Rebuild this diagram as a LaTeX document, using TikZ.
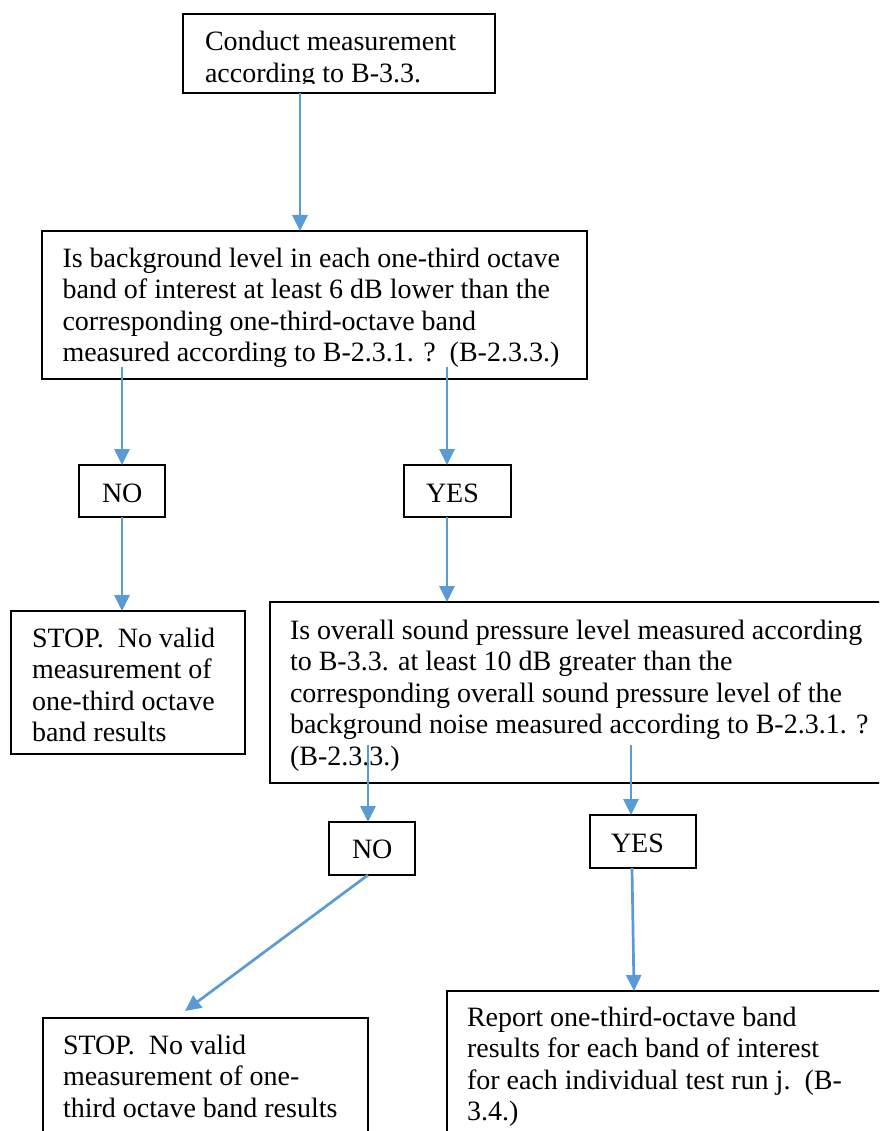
\documentclass[tikz,border=0pt]{standalone}
\usepackage{fontspec}
\setmainfont{Liberation Serif}
\usetikzlibrary{arrows.meta,calc}
\definecolor{arrowblue}{RGB}{91,155,213}
\begin{document}
\begin{tikzpicture}[x=1pt,y=-1pt,
  box/.style={draw=black, line width=2pt, inner sep=0pt, outer sep=0pt, rectangle},
  arr/.style={draw=arrowblue, line width=2.7pt, -{Triangle[length=16pt,width=15pt]}},
  txt/.style={anchor=base west, inner sep=0pt, outer sep=0pt, align=left, font=\fontsize{28}{31.6}\selectfont}]
\useasboundingbox (0,0) rectangle (879,1131);
\clip (0,0) rectangle (879,1131);
\fill[white] (0,0) rectangle (879,1131);
% boxes
\node[box, minimum width=312, minimum height=79] (b1) at (339,53.5) {};
\node[box, minimum width=545, minimum height=148] (b2) at (314.5,305) {};
\node[box, minimum width=86, minimum height=52] (no1) at (122,491) {};
\node[box, minimum width=107, minimum height=52] (yes1) at (457.5,491) {};
\node[box, minimum width=234, minimum height=143] (stop1) at (128,682.5) {};
\node[box, minimum width=640, minimum height=181] (b3) at (590,692.5) {};
\node[box, minimum width=86, minimum height=53] (no2) at (372,848.5) {};
\node[box, minimum width=106, minimum height=53] (yes2) at (643,841.5) {};
\node[box, minimum width=325, minimum height=150] (stop2) at (205.5,1093) {};
\node[box, minimum width=460, minimum height=180] (rep) at (677,1081) {};
% texts (anchor = baseline of the last line)
\begin{scope}
\clip (184,15) rectangle (494,84);
\node[txt] (t1) at (205,82.6) {Conduct measurement\\according to B-3.3.};
\end{scope}
\node[txt] (t2) at (62.5,361.8) {Is background level in each one-third octave\\band of interest at least 6 dB lower than the\\corresponding one-third-octave band\\measured according to B-2.3.1. ?\ \ (B-2.3.3.)};
\node[txt] (tno1) at (102,502) {NO};
\node[txt] (tyes1) at (426,502) {YES};
\node[txt] (tstop1) at (32,741.8) {STOP.\ \ No valid\\measurement of\\one-third octave\\band results};
\node[txt] (t3) at (290,765.4) {Is overall sound pressure level measured according\\to B-3.3. at least 10 dB greater than the\\corresponding overall sound pressure level of the\\background noise measured according to B-2.3.1. ?\\(B-2.3.3.)};
\node[txt] (tno2) at (352,858) {NO};
\node[txt] (tyes2) at (611,852) {YES};
\node[txt] (tstop2) at (63,1117.2) {STOP.\ \ No valid\\measurement of one-\\third octave band results};
\node[txt] (trep) at (467,1120.8) {Report one-third-octave band\\results for each band of interest\\for each individual test run j.\ \ (B-\\3.4.)};
% connectors
\coordinate (s1) at ($(b1.south west)+(117,0)$);
\draw[arr] (s1) -- (s1 |- b2.north);
\coordinate (s2l) at ($(b2.south west)+(80,-12)$);
\draw[arr] (s2l) -- (s2l |- no1.north);
\draw[arr] (s2l |- no1.south) -- (s2l |- stop1.north);
\coordinate (s2r) at ($(b2.south west)+(405,-12)$);
\draw[arr] (s2r) -- (s2r |- yes1.north);
\draw[arr] (s2r |- yes1.south) -- (s2r |- b3.north);
\coordinate (s3l) at ($(b3.south west)+(98,-38)$);
\draw[arr] (s3l) -- (s3l |- no2.north);
\coordinate (s3r) at ($(b3.south west)+(361,-38)$);
\draw[arr] (s3r) -- (s3r |- yes2.north);
\coordinate (n2s) at ($(no2.south west)+(39,0)$);
\coordinate (st2t) at ($(stop2.north west)+(142,-7)$);
\draw[arr] (n2s) -- (st2t);
\coordinate (y2s) at ($(yes2.south west)+(42,0)$);
\coordinate (rept) at ($(rep.north west)+(187,0)$);
\draw[arr] (y2s) -- (rept);
\end{tikzpicture}
\end{document}
